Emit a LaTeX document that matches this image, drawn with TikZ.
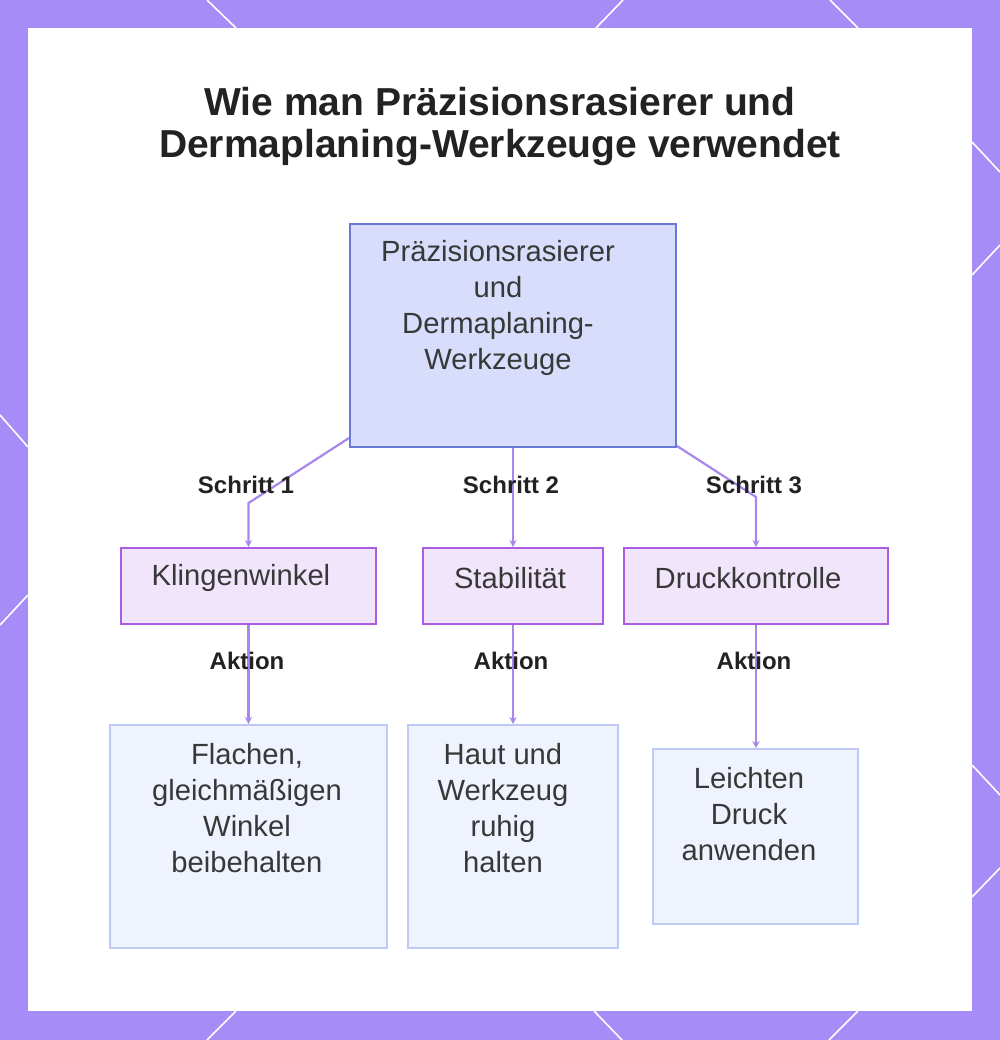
\documentclass[tikz,border=0pt]{standalone}
\usepackage{fontspec}
\setmainfont{Liberation Sans}
\usetikzlibrary{arrows.meta,positioning}
\definecolor{rim}{RGB}{166,140,246}
\definecolor{ink}{RGB}{34,34,34}
\definecolor{linkc}{RGB}{167,135,236}
\definecolor{topfill}{RGB}{216,221,251}
\definecolor{topline}{RGB}{104,122,214}
\definecolor{stepfill}{RGB}{241,229,252}
\definecolor{stepline}{RGB}{170,92,226}
\definecolor{actfill}{RGB}{239,243,254}
\definecolor{actline}{RGB}{190,201,245}
\tikzstyle{edge} = [draw=linkc,line width=1.1pt]
\tikzstyle{arrowedge} = [edge,-{Stealth[length=3.5pt,width=3.5pt]}]

\begin{document}
\begin{tikzpicture}[x=0.5pt,y=-0.5pt,
    topbox/.style={draw=topline,fill=topfill,line width=1pt,inner sep=0pt,minimum width=163pt,minimum height=111.5pt},
    stepbox/.style={draw=stepline,fill=stepfill,line width=1pt,inner sep=0pt,minimum height=38pt},
    actbox/.style={draw=actline,fill=actfill,line width=1pt,inner sep=0pt},
    boxtext/.style={text=ink!90,align=center,font=\fontsize{14.6}{18}\selectfont},
    steplabel/.style={text=ink,font=\bfseries\fontsize{12}{14}\selectfont}]
    \useasboundingbox (0,0) rectangle (1000,1040);
    % frame
    \fill[rim] (0,0) rectangle (1000,1040);
    \fill[white] (28,28) rectangle (972,1011);
    \draw[white,line width=0.8pt] (207,0) -- (236,28) (623,0) -- (596,28) (830,0) -- (858,28)
        (236,1011) -- (207,1040) (594,1011) -- (622,1040) (858,1011) -- (829,1040)
        (0,415) -- (28,447) (28,595) -- (0,625)
        (972,142) -- (1000,172) (972,275) -- (1000,245)
        (972,765) -- (1000,795) (972,897) -- (1000,868);
    % title
    \node[text=ink,align=center,font=\bfseries\fontsize{19.5}{21}\selectfont] (title) at (500,126)
        {Wie man Präzisionsrasierer und\\Dermaplaning-Werkzeuge verwendet};
    % boxes
    \node[topbox] (tool) at (513,335.5) {};
    \node[boxtext] (tooltxt) at (498,308) {Präzisionsrasierer\\und\\Dermaplaning-\\Werkzeuge};
    \node[stepbox,minimum width=127.5pt] (winkel) at (248.5,586) {};
    \node[boxtext] (winkeltxt) at (241,578) {Klingenwinkel};
    \node[stepbox,minimum width=90pt] (stabil) at (513,586) {};
    \node[boxtext] (stabiltxt) at (510,578) {Stabilität};
    \node[stepbox,minimum width=132pt] (druck) at (756,586) {};
    \node[boxtext] (drucktxt) at (748,578) {Druckkontrolle};
    \node[actbox,minimum width=138.5pt,minimum height=111.5pt] (flach) at (248.5,836.5) {};
    \node[boxtext] (flachtxt) at (247,808) {Flachen,\\gleichmäßigen\\Winkel\\beibehalten};
    \node[actbox,minimum width=105pt,minimum height=111.5pt] (ruhig) at (513,836.5) {};
    \node[boxtext] (ruhigtxt) at (503,808) {Haut und\\Werkzeug\\ruhig\\halten};
    \node[actbox,minimum width=102.5pt,minimum height=87.5pt] (leicht) at (755.5,836.5) {};
    \node[boxtext] (leichttxt) at (749,814) {Leichten\\Druck\\anwenden};
    % connectors
    \coordinate (b1) at (248.5,503);
    \coordinate (b3) at (756,497);
    \draw[arrowedge] ([yshift=5pt]tool.south west) -- (b1) -- (winkel.north);
    \draw[arrowedge] (tool.south) -- (stabil.north);
    \draw[arrowedge] ([yshift=1pt]tool.south east) -- (b3) -- (druck.north);
    \draw[arrowedge] (winkel.south) -- (flach.north);
    \draw[arrowedge] (stabil.south) -- (ruhig.north);
    \draw[arrowedge] (druck.south) -- (druck.south |- leicht.north);
    % labels
    \node[steplabel] (s1) at (246,485) {Schritt 1};
    \node[steplabel] (s2) at (511,485) {Schritt 2};
    \node[steplabel] (s3) at (754,485) {Schritt 3};
    \node[steplabel] (a1) at (247,661) {Aktion};
    \node[steplabel] (a2) at (511,661) {Aktion};
    \node[steplabel] (a3) at (754,661) {Aktion};
\end{tikzpicture}
\end{document}
